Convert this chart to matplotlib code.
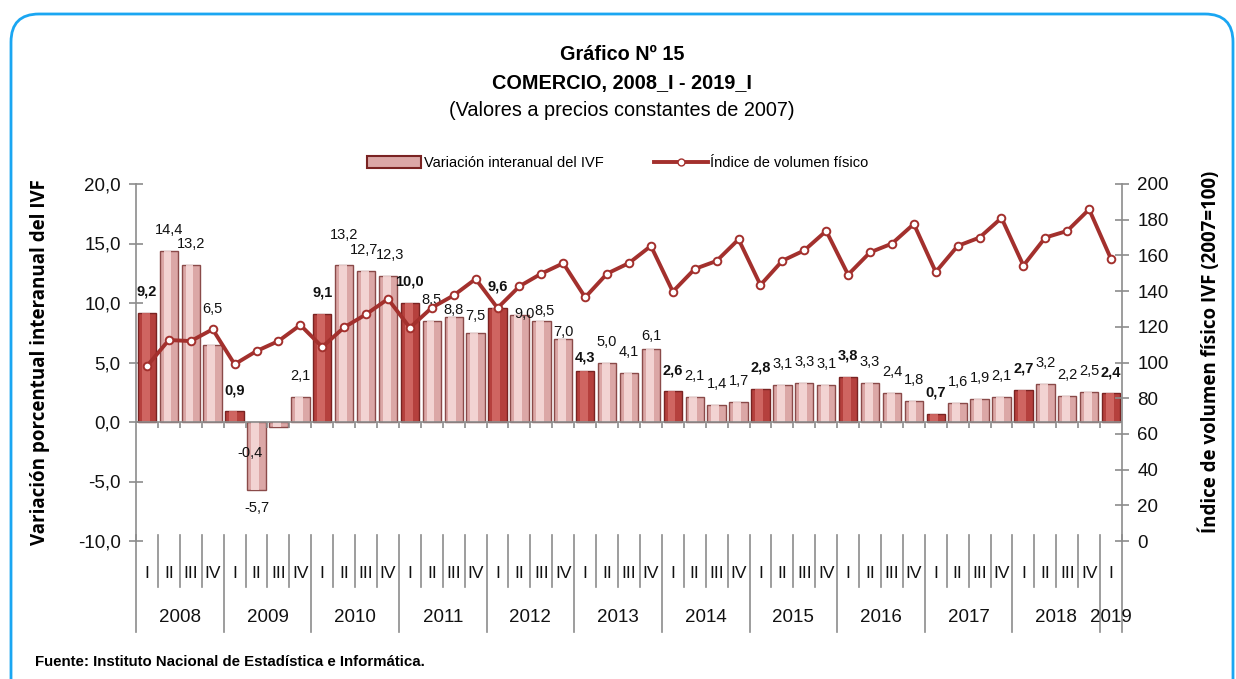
import matplotlib
matplotlib.use("Agg")
import matplotlib.pyplot as plt
import matplotlib.patches as mpatches
import matplotlib.transforms as mtransforms
from matplotlib.lines import Line2D

# data (2008_I .. 2019_I)
years = ["2008", "2009", "2010", "2011", "2012", "2013", "2014", "2015", "2016", "2017", "2018", "2019"]
quarters = ["I", "II", "III", "IV"]
variacion = [9.2, 14.4, 13.2, 6.5,
             0.9, -5.7, -0.4, 2.1,
             9.1, 13.2, 12.7, 12.3,
             10.0, 8.5, 8.8, 7.5,
             9.6, 9.0, 8.5, 7.0,
             4.3, 5.0, 4.1, 6.1,
             2.6, 2.1, 1.4, 1.7,
             2.8, 3.1, 3.3, 3.1,
             3.8, 3.3, 2.4, 1.8,
             0.7, 1.6, 1.9, 2.1,
             2.7, 3.2, 2.2, 2.5,
             2.4]
ivf = [98.0, 112.6, 112.0, 118.6,
       99.0, 106.4, 112.0, 121.0,
       108.7, 119.7, 127.0, 135.6,
       119.5, 130.7, 137.6, 146.8,
       130.5, 142.7, 149.8, 155.6,
       136.5, 149.8, 155.7, 165.3,
       139.7, 152.4, 156.9, 169.0,
       143.4, 157.0, 162.8, 173.7,
       149.2, 161.7, 166.6, 177.6,
       150.7, 165.3, 170.0, 181.0,
       154.3, 170.0, 173.7, 185.8,
       158.0]

# label nudges in pixels (dx, dy), the original labels were moved by hand
nudges = {3: (0, 15), 6: (-28, -8), 9: (0, 9), 10: (-2, 0), 11: (2, 0), 14: (0, -14), 15: (0, -4),
          17: (5, -20), 18: (3, -11), 19: (0, -14), 20: (0, -8), 23: (0, -8)}

plt.rcParams["font.family"] = ["Liberation Sans", "DejaVu Sans"]
bold_axis_font = ["Open Sans", "DejaVu Sans"]

n = len(variacion)
x = list(range(n))

fig = plt.figure(figsize=(12.36, 6.79), dpi=100)
ax = fig.add_axes([136 / 1236, 1 - 541 / 679, (1122 - 136) / 1236, (541 - 184) / 679])
ax2 = ax.twinx()

axis_grey = "#8c8c8c"
dark_face, dark_hi, dark_edge = "#b5403d", "#d46c68", "#7a2322"
light_face, light_hi, light_edge = "#dba7a6", "#f7dcdb", "#8a4a49"
line_col = "#a3302d"

for i, v in enumerate(variacion):
    q1 = (i % 4 == 0)
    face, hi, edge = (dark_face, dark_hi, dark_edge) if q1 else (light_face, light_hi, light_edge)
    ax.bar(i, v, width=0.84, color=face, edgecolor=edge, linewidth=1.0, zorder=2)
    ax.bar(i - 0.06, v, width=0.36, color=hi, linewidth=0, zorder=3, alpha=0.85)

    dx, dy = nudges.get(i, (0, 0))
    off = 21 if v >= 0 else -18
    ax.annotate(f"{v:.1f}".replace(".", ","), (i, v), xytext=(dx, off + dy),
                textcoords="offset pixels", ha="center", va="center",
                fontsize=10.5, fontweight="bold" if q1 else "normal",
                color="#111111", zorder=5)

ax.set_xlim(-0.5, n - 0.5)
ax.set_ylim(-10, 20)
ax.set_yticks([-10, -5, 0, 5, 10, 15, 20])
ax.set_yticklabels([f"{t:.1f}".replace(".", ",") for t in [-10, -5, 0, 5, 10, 15, 20]])
ax.set_xticks([])
ax.axhline(0, color=axis_grey, lw=1.2, zorder=4)
ax.vlines([k - 0.5 for k in range(1, n)], -0.5, 0, color=axis_grey, lw=1.2, zorder=4)

ax2.plot(x, ivf, color=line_col, lw=2.8, marker="o", markersize=5.5,
         markerfacecolor="white", markeredgecolor=line_col, markeredgewidth=1.4, zorder=6)
ax2.set_ylim(0, 200)
ax2.set_yticks(range(0, 201, 20))

for a in (ax, ax2):
    for s in ("top", "bottom"):
        a.spines[s].set_visible(False)
    a.tick_params(axis="y", direction="inout", length=10, width=1.2, color=axis_grey,
                  labelsize=13.5, pad=6, labelcolor="#111111")
ax.spines["left"].set_color(axis_grey)
ax.spines["left"].set_linewidth(1.2)
ax.spines["right"].set_visible(False)
ax2.spines["left"].set_visible(False)
ax2.spines["right"].set_color(axis_grey)
ax2.spines["right"].set_linewidth(1.2)

# two-level category axis below the plot
trans = mtransforms.blended_transform_factory(ax.transData, ax.transAxes)
px = 1 / 357
for k in range(n + 1):
    bottom = -91 * px if (k % 4 == 0 or k == n) else -46 * px
    ax.add_line(Line2D([k - 0.5, k - 0.5], [6 * px, bottom], transform=trans,
                       color=axis_grey, lw=1.2, clip_on=False))
for i in x:
    ax.text(i, -32 * px, quarters[i % 4], transform=trans, ha="center", va="center",
            fontsize=12.5, color="#111111")
for j, yr in enumerate(years):
    first = 4 * j
    last = min(4 * j + 3, n - 1)
    ax.text((first + last) / 2, -76 * px, yr, transform=trans, ha="center", va="center",
            fontsize=13.5, color="#111111")

# titles
fig.text(0.503, 1 - 55 / 679, "Gráfico Nº 15", ha="center", va="center", fontsize=14.3, fontweight="bold")
fig.text(0.503, 1 - 83 / 679, "COMERCIO, 2008_I - 2019_I", ha="center", va="center", fontsize=14.3, fontweight="bold")
fig.text(0.503, 1 - 111 / 679, "(Valores a precios constantes de 2007)", ha="center", va="center", fontsize=14.3)

fig.text(40 / 1236, 1 - 362 / 679, "Variación porcentual interanual del IVF", rotation=90,
         ha="center", va="center", fontsize=13.5, fontweight="bold", family=bold_axis_font)
fig.text(1210 / 1236, 1 - 352 / 679, "Índice de volumen físico IVF (2007=100)", rotation=90,
         ha="center", va="center", fontsize=13.5, fontweight="bold", family=bold_axis_font)

fig.text(35 / 1236, 1 - 662 / 679, "Fuente: Instituto Nacional de Estadística e Informática.",
         ha="left", va="center", fontsize=10.8, fontweight="bold")

handles = [mpatches.Patch(facecolor=light_face, edgecolor=dark_edge, linewidth=1.5),
           Line2D([], [], color=line_col, lw=2.8, marker="o", markersize=5,
                  markerfacecolor="white", markeredgecolor=line_col)]
fig.legend(handles, ["Variación interanual del IVF", "Índice de volumen físico"],
           loc="center", bbox_to_anchor=(0.5, 1 - 163 / 679), ncol=2, frameon=False,
           fontsize=10.5, handlelength=3.7, handleheight=0.9, handletextpad=0.2, columnspacing=3.4)

# rounded blue frame
frame = mpatches.FancyBboxPatch((11, -60), 1222, 665 + 60, boxstyle="round,pad=0,rounding_size=28",
                                transform=mtransforms.IdentityTransform(), facecolor="none",
                                edgecolor="#1aa6f2", linewidth=2.0)
fig.patches.append(frame)

fig.savefig("out.png", dpi=100)
